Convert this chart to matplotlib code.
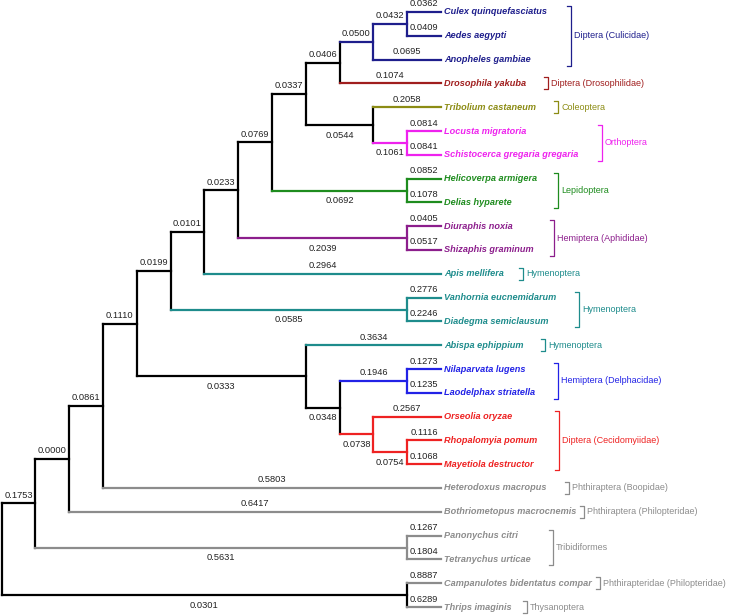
import matplotlib
matplotlib.use("Agg")
import matplotlib.pyplot as plt

# ---------------- data ----------------
newick = ("(((((((((((((Culex_quinquefasciatus:0.0362,Aedes_aegypti:0.0409):0.0432,"
          "Anopheles_gambiae:0.0695):0.0500,Drosophila_yakuba:0.1074):0.0406,"
          "(Tribolium_castaneum:0.2058,(Locusta_migratoria:0.0814,"
          "Schistocerca_gregaria_gregaria:0.0841):0.1061):0.0544):0.0337,"
          "(Helicoverpa_armigera:0.0852,Delias_hyparete:0.1078):0.0692):0.0769,"
          "(Diuraphis_noxia:0.0405,Shizaphis_graminum:0.0517):0.2039):0.0233,"
          "Apis_mellifera:0.2964):0.0101,"
          "(Vanhornia_eucnemidarum:0.2776,Diadegma_semiclausum:0.2246):0.0585):0.0199,"
          "(Abispa_ephippium:0.3634,((Nilaparvata_lugens:0.1273,Laodelphax_striatella:0.1235):0.1946,"
          "(Orseolia_oryzae:0.2567,(Rhopalomyia_pomum:0.1116,Mayetiola_destructor:0.1068):0.0754)"
          ":0.0738):0.0348):0.0333):0.1110,Heterodoxus_macropus:0.5803):0.0861,"
          "Bothriometopus_macrocnemis:0.6417):0.0000,"
          "(Panonychus_citri:0.1267,Tetranychus_urticae:0.1804):0.5631):0.1753,"
          "(Campanulotes_bidentatus_compar:0.8887,Thrips_imaginis:0.6289):0.0301);")

group_names = ["Diptera (Culicidae)", "Diptera (Drosophilidae)", "Coleoptera", "Orthoptera",
               "Lepidoptera", "Hemiptera (Aphididae)", "Hymenoptera", "Hymenoptera",
               "Hymenoptera", "Hemiptera (Delphacidae)", "Diptera (Cecidomyiidae)",
               "Phthiraptera (Boopidae)", "Phthiraptera (Philopteridae)", "Tribidiformes",
               "Phthirapteridae (Philopteridae)", "Thysanoptera"]
group_first = [0, 3, 4, 5, 7, 9, 11, 12, 14, 15, 17, 20, 21, 22, 24, 25]
group_last = [2, 3, 4, 6, 8, 10, 11, 13, 14, 16, 19, 20, 21, 23, 24, 25]

# ---------------- styles / layout ----------------
NAVY, DRED, OLIVE, MAG = "#1E1E8C", "#A01E1E", "#8C8C14", "#EE22EE"
GREEN, PURP, TEAL, BLUE = "#1E8C1E", "#8C1E8C", "#1E8C8C", "#2222E6"
RED, GREY = "#EE2222", "#8C8C8C"
group_colors = [NAVY, DRED, OLIVE, MAG, GREEN, PURP, TEAL, TEAL, TEAL, BLUE, RED,
                GREY, GREY, GREY, GREY, GREY]
bracket_x = [571, 548, 558, 602, 558, 554, 523, 579, 545, 558, 559, 569, 571, 553, 598, 527]

X_LEAF, STEP = 441, 33.8
Y0, DY = 12, 23.8
FONT = "Liberation Sans"


def parse(s):
    pos = 0

    def node():
        nonlocal pos
        children = []
        name = ""
        if s[pos] == "(":
            pos += 1
            children.append(node())
            while s[pos] == ",":
                pos += 1
                children.append(node())
            pos += 1
        else:
            st = pos
            while s[pos] not in ":,);":
                pos += 1
            name = s[st:pos].replace("_", " ")
        length = None
        if s[pos] == ":":
            pos += 1
            st = pos
            while s[pos] not in ",);":
                pos += 1
            length = s[st:pos]
        return {"name": name, "children": children, "length": length}

    return node()


tree = parse(newick)

leaves = []


def layout(n):
    if not n["children"]:
        n["h"] = 0
        n["y"] = Y0 + DY * len(leaves)
        leaves.append(n)
        n["leaves"] = [len(leaves) - 1]
    else:
        for c in n["children"]:
            layout(c)
        n["h"] = 1 + max(c["h"] for c in n["children"])
        n["y"] = (n["children"][0]["y"] + n["children"][-1]["y"]) / 2
        n["leaves"] = [i for c in n["children"] for i in c["leaves"]]
    n["x"] = X_LEAF - n["h"] * STEP


layout(tree)

leaf_color = {}
for g, (a, b) in enumerate(zip(group_first, group_last)):
    for i in range(a, b + 1):
        leaf_color[i] = group_colors[g]


def assign_colors(n, depth):
    cols = {leaf_color[i] for i in n["leaves"]}
    if not n["children"]:
        n["c"] = leaf_color[n["leaves"][0]]
    elif len(cols) == 1 and depth > 1:
        n["c"] = cols.pop()
    else:
        n["c"] = "black"
    for c in n["children"]:
        assign_colors(c, depth + 1)


assign_colors(tree, 0)

fig = plt.figure(figsize=(7.45, 6.15), dpi=100)
ax = fig.add_axes([0, 0, 1, 1])
ax.set_xlim(0, 745)
ax.set_ylim(615, 0)
ax.axis("off")

LW = 1.6


def draw(n):
    if not n["children"]:
        return
    ch = n["children"]
    ax.plot([n["x"], n["x"]], [ch[0]["y"], ch[-1]["y"]], color=n["c"], lw=LW,
            solid_capstyle="projecting")
    for k, c in enumerate(ch):
        ax.plot([n["x"], c["x"]], [c["y"], c["y"]], color=c["c"], lw=LW,
                solid_capstyle="projecting")
        xm = (n["x"] + c["x"]) / 2
        if not c["children"] or k == 0:
            ax.text(xm, c["y"] - 8, c["length"], ha="center", va="center",
                    fontsize=6.7, family=FONT, color="#222222")
        else:
            ax.text(xm, c["y"] + 10, c["length"], ha="center", va="center",
                    fontsize=6.7, family=FONT, color="#222222")
        draw(c)


draw(tree)

leaf_texts = []
for i, lf in enumerate(leaves):
    t = ax.text(X_LEAF + 3, lf["y"], lf["name"], ha="left", va="center", fontsize=6.6,
                family=FONT, fontweight="bold", fontstyle="italic", color=leaf_color[i])
    leaf_texts.append(t)

fig.canvas.draw()
renderer = fig.canvas.get_renderer()
inv = ax.transData.inverted()
leaf_end = []
for t in leaf_texts:
    bb = t.get_window_extent(renderer)
    leaf_end.append(inv.transform((bb.x1, bb.y0))[0])

for g, name in enumerate(group_names):
    y1 = Y0 + DY * group_first[g] - 6
    y2 = Y0 + DY * group_last[g] + 6
    longest = max(leaf_end[group_first[g]:group_last[g] + 1])
    bx = max(bracket_x[g], longest + 8)
    ax.plot([bx - 4, bx, bx, bx - 4], [y1, y1, y2, y2], color=group_colors[g], lw=0.9)
    ax.text(bx + 3, (y1 + y2) / 2, name, ha="left", va="center", fontsize=6.5,
            family=FONT, color=group_colors[g])

fig.savefig("out.png", dpi=100)
